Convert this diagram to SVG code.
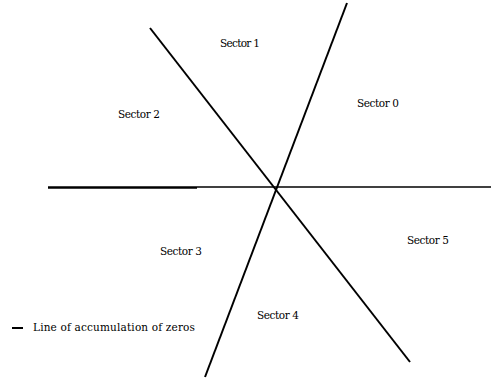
<svg xmlns="http://www.w3.org/2000/svg" width="491" height="379" viewBox="0 0 491 379">
<style>
.l{stroke:#000;stroke-width:2;fill:none}
.t{font-family:'DejaVu Serif','Liberation Serif',serif;font-size:10.5px;fill:#000}
</style>
<rect width="491" height="379" fill="#fff"/>
<g id="connectors">
<line class="l" x1="48" y1="187.5" x2="197" y2="187.5" style="stroke-width:2.5"/>
<line class="l" x1="197" y1="187" x2="491" y2="187" style="stroke-width:1.5"/>
<line class="l" x1="150" y1="28" x2="410" y2="362"/>
<line class="l" x1="347" y1="3" x2="205" y2="377"/>
</g>
<g id="s0"><text class="t" x="357" y="107" textLength="42">Sector 0</text></g>
<g id="s1"><text class="t" x="220" y="47" textLength="40">Sector 1</text></g>
<g id="s2"><text class="t" x="118" y="118" textLength="42">Sector 2</text></g>
<g id="s3"><text class="t" x="160" y="255" textLength="42">Sector 3</text></g>
<g id="s4"><text class="t" x="257" y="319" textLength="42">Sector 4</text></g>
<g id="s5"><text class="t" x="407" y="244" textLength="42">Sector 5</text></g>
<g id="legend">
<line class="l" x1="12" y1="328" x2="23" y2="328"/>
<text class="t" x="33" y="331" textLength="162">Line of accumulation of zeros</text>
</g>
</svg>
